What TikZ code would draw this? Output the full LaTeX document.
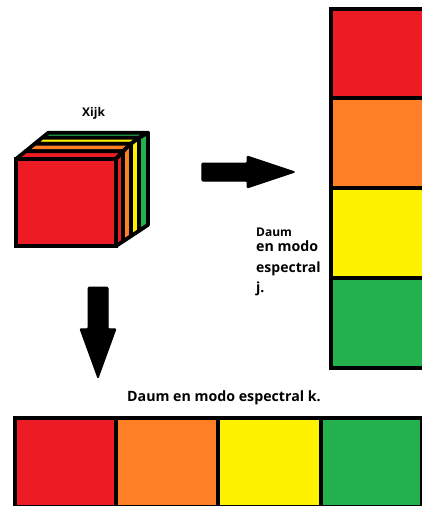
\documentclass[tikz,border=0pt]{standalone}
\usepackage{fontspec}
\setmainfont{Open Sans}
\usetikzlibrary{shapes.arrows}
\definecolor{pred}{HTML}{ED1C24}
\definecolor{porange}{HTML}{FF7F27}
\definecolor{pyellow}{HTML}{FFF200}
\definecolor{pgreen}{HTML}{22B14C}
\begin{document}
\begin{tikzpicture}[
  x=1pt, y=-1pt,
  cell/.style={draw, line width=4pt, inner sep=0pt, minimum width=#1},
  colcell/.style={cell=100pt, minimum height=90pt},
  rowcell/.style={cell=#1, minimum height=88.5pt},
  face/.style={draw, line width=3.8pt, line join=round},
  bigarrow/.style={single arrow, fill=black, draw, line width=1pt, line join=round, inner xsep=0pt, text height=0pt, text depth=0pt, rounded corners=1pt},
  lbl/.style={anchor=base west, inner sep=0pt}
]
\useasboundingbox (0,0) rectangle (422,506);
\begin{scope}
\clip (0,0) rectangle (422,506);
% column j
\foreach \c/\y in {pred/53.5, porange/143, pyellow/233, pgreen/323}
  \node[colcell, fill=\c] (col\c) at (381,\y) {};
% row k
\foreach \c/\x/\w in {pred/65.5/101pt, porange/167/102pt, pyellow/269.5/103pt, pgreen/371.5/101pt}
  \node[rowcell=\w, fill=\c] (row\c) at (\x,462.25) {};
\end{scope}
% cube, slices from the back to the front
\foreach \c/\a/\p/\b/\q in {pgreen/23/21.2/32/26.3, pyellow/15/15.3/23/21.2, porange/7/7.7/15/15.3, pred/0/0/7/7.7} {
  \draw[face, fill=\c] (16+\p/0.8125,159-\p) -- (16+\q/0.8125,159-\q) -- (116+\b,159-\q) -- (116+\a,159-\p) -- cycle;
  \draw[face, fill=\c] (116+\a,159-\p) -- (116+\b,159-\q) -- (116+\b,246-0.66*\b) -- (116+\a,246-0.66*\a) -- cycle;
}
\node[draw, line width=4pt, fill=pred, inner sep=0pt, minimum width=100pt, minimum height=87pt] (front) at (66,202.5) {};
% arrows
\node[bigarrow, inner ysep=8.5pt, minimum height=93pt, single arrow head extend=7pt, single arrow tip angle=37] (toj) at (235,172) {};
\node[bigarrow, rotate=-90, inner ysep=9.5pt, minimum height=91pt, single arrow head extend=8pt, single arrow tip angle=40] (tok) at (98,319) {};
% labels
\node[lbl, font=\bfseries\fontsize{12}{14}\selectfont] (xijk) at (82,116) {Xijk};
\node[lbl, font=\bfseries\fontsize{12}{14}\selectfont] (jone) at (256,236) {Daum};
\node[lbl, font=\bfseries\fontsize{14.2}{16}\selectfont] (jtwo) at (256,251) {en modo};
\node[lbl, font=\bfseries\fontsize{14}{16}\selectfont] (jthree) at (256,272) {espectral};
\node[lbl, font=\bfseries\fontsize{14}{16}\selectfont] (jfour) at (256,292) {j.};
\node[lbl, font=\bfseries\fontsize{14.2}{16}\selectfont] (klabel) at (127,401) {Daum en modo espectral k.};
\end{tikzpicture}
\end{document}
